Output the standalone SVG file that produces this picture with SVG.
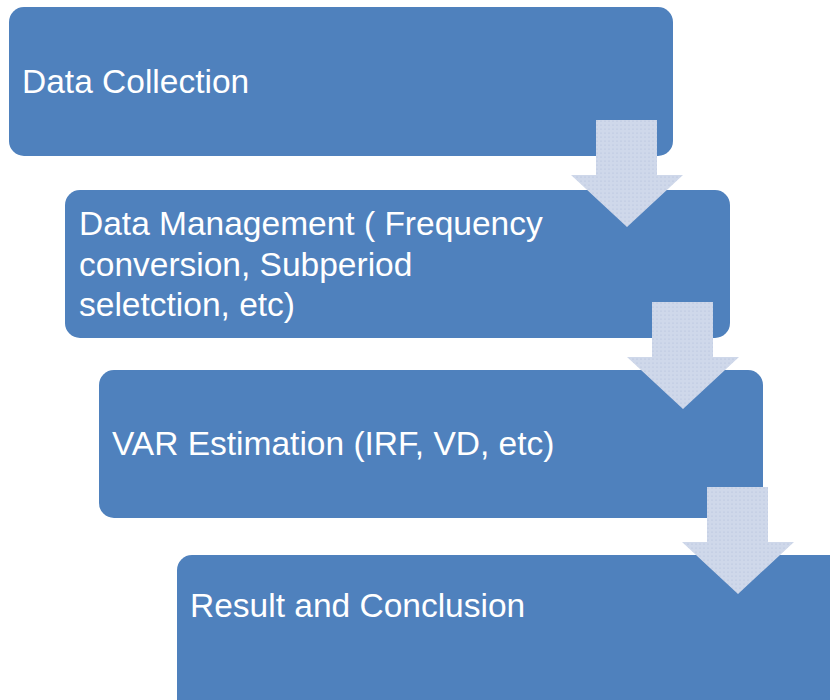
<svg xmlns="http://www.w3.org/2000/svg" width="830" height="700" viewBox="0 0 830 700">
  <style>
    .box { fill: #4f81bd; }
    .label { fill: #ffffff; font-family: "Liberation Sans", Arial, sans-serif; font-size: 33.5px; }
  </style>
  <defs>
    <pattern id="dots" width="4" height="4" patternUnits="userSpaceOnUse">
      <rect width="4" height="4" fill="#cfd8ea"/>
      <circle cx="1" cy="1" r="0.6" fill="#aebdda"/>
    </pattern>
    <!-- down arrow shape, origin at shaft top-left -->
    <path id="downArrow" d="M0,0 H61 V55 H87 L31,107 L-25,55 H0 Z"/>
  </defs>
  <rect width="830" height="700" fill="#ffffff"/>

  <g id="step1">
    <rect class="box" x="9" y="7" width="664" height="149" rx="15"/>
    <text class="label" x="22" y="93">Data Collection</text>
  </g>
  <g id="step2">
    <rect class="box" x="65" y="190" width="665" height="148" rx="15"/>
    <text class="label" x="79" y="235">Data Management ( Frequency</text>
    <text class="label" x="79" y="276">conversion, Subperiod</text>
    <text class="label" x="79" y="316">seletction, etc)</text>
  </g>
  <g id="step3">
    <rect class="box" x="99" y="370" width="664" height="148" rx="15"/>
    <text class="label" x="112" y="455">VAR Estimation (IRF, VD, etc)</text>
  </g>
  <g id="step4">
    <rect class="box" x="177" y="555" width="680" height="170" rx="15"/>
    <text class="label" x="190" y="617">Result and Conclusion</text>
  </g>

  <g id="connectors">
    <use href="#downArrow" x="596" y="120" fill="url(#dots)"/>
    <use href="#downArrow" x="652" y="302" fill="url(#dots)"/>
    <use href="#downArrow" x="707" y="487" fill="url(#dots)"/>
  </g>
</svg>
